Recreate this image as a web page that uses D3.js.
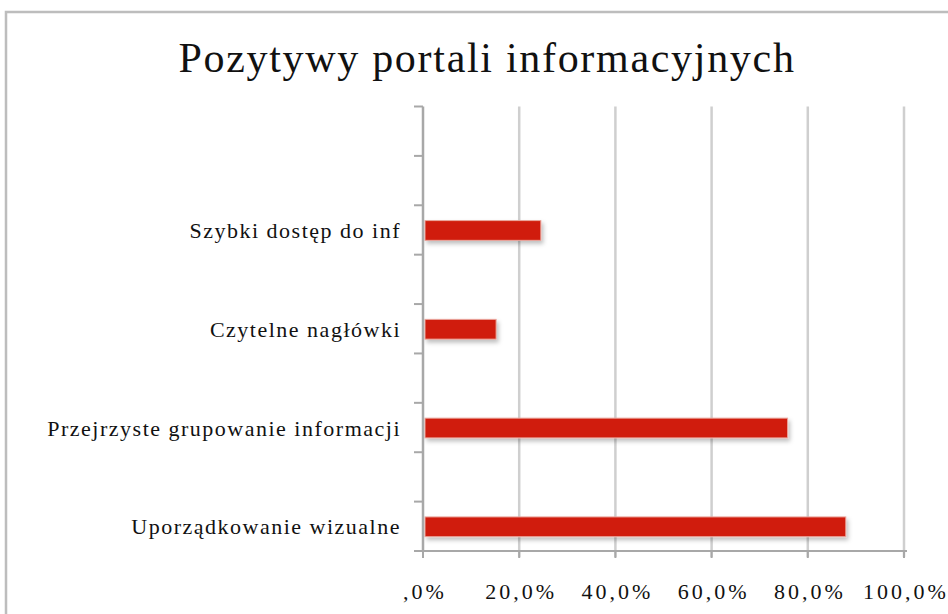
<!DOCTYPE html>
<html>
<head>
<meta charset="utf-8">
<script src="https://cdn.jsdelivr.net/npm/d3@7"></script>
<style>
  body { margin: 0; background: #fff; }
  text { font-family: "Liberation Serif", "DejaVu Serif", serif; fill: #111; }
</style>
</head>
<body>
<div id="chart"></div>
<script>
// categories from the bottom up; empty slots are unlabeled rows in the original
var categories = ["Uporządkowanie wizualne", "", "Przejrzyste grupowanie informacji", "",
                  "Czytelne nagłówki", "", "Szybki dostęp do inf", "", ""];
var values = [87.9, null, 75.8, null, 15.2, null, 24.5, null, null];
var xTicks = [0, 20, 40, 60, 80, 100];
var xTickLabels = [",0%", "20,0%", "40,0%", "60,0%", "80,0%", "100,0%"];
var title = "Pozytywy portali informacyjnych";

function draw() {
    var width = 948, height = 614;

    var svg = d3.select("#chart").append("svg")
        .attr("width", width)
        .attr("height", height);

    var defs = svg.append("defs");
    var f = defs.append("filter").attr("id", "shadow")
        .attr("x", "-5%").attr("y", "-30%").attr("width", "115%").attr("height", "180%");
    f.append("feDropShadow")
        .attr("dx", 2).attr("dy", 3).attr("stdDeviation", 2)
        .attr("flood-color", "#000").attr("flood-opacity", 0.25);

    // outer frame
    svg.append("path")
        .attr("d", "M6,620 L6,12 L960,12")
        .attr("fill", "none")
        .attr("stroke", "#bdbdbd")
        .attr("stroke-width", 2.5);

    svg.append("text")
        .attr("x", 487).attr("y", 72)
        .attr("text-anchor", "middle")
        .attr("font-size", 42)
        .attr("letter-spacing", 1.7)
        .text(title);

    var left = 423, right = 904, top = 106.5, bottom = 551;

    var x = d3.scaleLinear().domain([0, 100]).range([left, right]);
    var y = d3.scaleBand()
        .domain(d3.range(categories.length))
        .range([bottom, top])
        .paddingInner(0.6).paddingOuter(0.3);

    // vertical gridlines
    svg.append("g").selectAll("line")
        .data(xTicks.slice(1))
        .enter().append("line")
        .attr("x1", d => x(d)).attr("x2", d => x(d))
        .attr("y1", top).attr("y2", bottom + 6)
        .attr("stroke", "#cfcfcf")
        .attr("stroke-width", 2.5);

    // bars
    svg.append("g").selectAll("rect")
        .data(values.map((v, i) => ({ i: i, v: v })).filter(d => d.v !== null))
        .enter().append("rect")
        .attr("x", x(0) + 2)
        .attr("y", d => y(d.i) + 0.5)
        .attr("width", d => x(d.v) - x(0) - 2)
        .attr("height", y.bandwidth())
        .attr("fill", "#d01f0b")
        .attr("stroke", "#eaa59d")
        .attr("stroke-width", 1)
        .attr("filter", "url(#shadow)");

    // y axis: ticks at category boundaries
    var bounds = d3.range(categories.length + 1).map(i => bottom - i * (bottom - top) / categories.length);
    var gy = svg.append("g");
    gy.append("line")
        .attr("x1", left).attr("x2", left)
        .attr("y1", top).attr("y2", bottom)
        .attr("stroke", "#a8a8a8").attr("stroke-width", 2.5);
    gy.selectAll("line.tick").data(bounds).enter().append("line")
        .attr("class", "tick")
        .attr("x1", left - 9).attr("x2", left)
        .attr("y1", d => d).attr("y2", d => d)
        .attr("stroke", "#a8a8a8").attr("stroke-width", 2);
    gy.selectAll("text").data(categories).enter().append("text")
        .attr("x", 401)
        .attr("y", (d, i) => y(i) + y.bandwidth() / 2 + 8)
        .attr("text-anchor", "end")
        .attr("font-size", 22)
        .attr("letter-spacing", 1.5)
        .text(d => d);

    // x axis
    var gx = svg.append("g");
    gx.append("line")
        .attr("x1", left - 9).attr("x2", right + 3)
        .attr("y1", bottom).attr("y2", bottom)
        .attr("stroke", "#a8a8a8").attr("stroke-width", 2);
    gx.selectAll("line.tick").data(xTicks).enter().append("line")
        .attr("class", "tick")
        .attr("x1", d => x(d)).attr("x2", d => x(d))
        .attr("y1", bottom).attr("y2", bottom + 7)
        .attr("stroke", "#a8a8a8").attr("stroke-width", 2);
    gx.selectAll("text").data(xTicks).enter().append("text")
        .attr("x", d => x(d) + 2)
        .attr("y", 599)
        .attr("text-anchor", "middle")
        .attr("font-size", 22)
        .attr("letter-spacing", 3)
        .text((d, i) => xTickLabels[i]);
}

draw();
</script>
</body>
</html>
